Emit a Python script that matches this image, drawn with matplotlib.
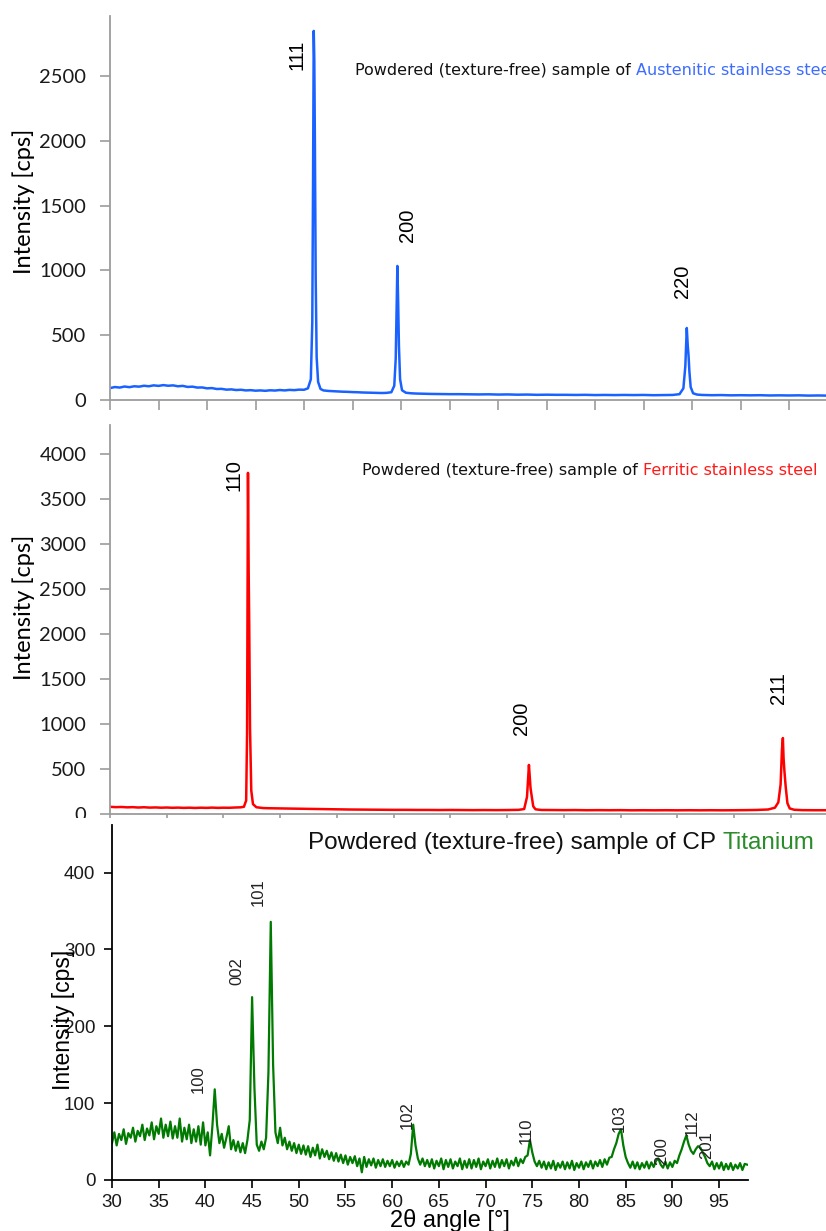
import numpy as np
import matplotlib
matplotlib.use("Agg")
import matplotlib.pyplot as plt
from matplotlib.patches import Rectangle

# ---------------- data ----------------
# Panel 1: austenitic stainless steel
aus_two_theta = [30.0, 30.5, 31.0, 31.5, 32.0, 32.5, 33.0, 33.5, 34.0, 34.5, 35.0, 35.5, 36.0, 36.5,
                 37.0, 37.5, 38.0, 38.5, 39.0, 39.5, 40.0, 40.5, 41.0, 41.5, 42.0, 42.5, 43.0, 43.5,
                 44.0, 44.5, 45.0, 45.5, 46.0, 46.5, 47.0, 47.5, 48.0, 48.5, 49.0, 49.5, 50.0, 50.4,
                 50.7, 50.85, 50.93, 51.0, 51.06, 51.12, 51.2, 51.3, 51.45, 51.7, 52.0, 52.5, 53.0,
                 53.5, 54.0, 54.5, 55.0, 55.5, 56.0, 56.5, 57.0, 57.5, 58.0, 58.5, 59.0, 59.3, 59.45,
                 59.55, 59.62, 59.7, 59.78, 59.9, 60.1, 60.5, 61.0, 61.5, 62.0, 63, 64, 65, 66, 67,
                 68, 69, 70, 71, 72, 73, 74, 75, 76, 77, 78, 79, 80, 81, 82, 83, 84, 85, 86, 87, 88,
                 88.7, 89.1, 89.3, 89.45, 89.55, 89.63, 89.72, 89.85, 90.1, 90.5, 91, 92, 93, 94, 95,
                 96, 97, 98, 99, 100, 101, 102, 103, 103.8]
aus_intensity = [92, 100, 96, 104, 99, 106, 103, 110, 106, 113, 109, 115, 110, 113,
                 106, 109, 101, 103, 96, 97, 90, 92, 85, 86, 80, 82, 77, 79,
                 74, 76, 72, 74, 71, 75, 73, 77, 74, 78, 76, 80, 79, 90,
                 160, 600, 1700, 2850, 2620, 1980, 950, 330, 140, 85, 74, 70, 68,
                 66, 64, 63, 61, 60, 58, 57, 56, 55, 54, 55, 60, 110, 320,
                 720, 1035, 760, 420, 160, 75, 56, 52, 50, 49, 47, 46, 45, 45, 44,
                 43, 44, 42, 43, 41, 42, 40, 41, 40, 40, 39, 40, 38, 39, 38, 39, 38, 39, 37, 38, 39,
                 45, 90, 260, 556, 420, 347, 220, 100, 52, 42, 39, 37, 38, 36, 37,
                 36, 37, 35, 36, 35, 36, 34, 35, 34]
aus_yticks = [0, 500, 1000, 1500, 2000, 2500]
aus_peaks = ["111", "200", "220"]

# Panel 2: ferritic stainless steel
fer_two_theta = [40.0, 40.5, 41.0, 41.5, 42.0, 42.5, 43.0, 43.5, 44.0, 44.5, 45.0, 45.5, 46.0, 46.5,
                 47.0, 47.5, 48.0, 48.5, 49.0, 49.5, 50.0, 50.5, 51.0, 51.5, 51.8, 52.0, 52.08, 52.16,
                 52.22, 52.27, 52.34, 52.45, 52.6, 52.9, 53.5, 54, 55, 56, 57, 58, 59, 60, 61, 62,
                 63, 64, 65, 66, 67, 68, 69, 70, 71, 72, 73, 74, 75, 76, 76.5, 76.75, 76.92, 77.0,
                 77.06, 77.15, 77.3, 77.5, 78, 79, 80, 81, 82, 83, 84, 85, 86, 87, 88, 89, 90, 91,
                 92, 93, 94, 95, 96, 97, 98, 98.6, 98.9, 99.1, 99.22, 99.3, 99.36, 99.44, 99.55,
                 99.7, 99.9, 100.3, 101, 102, 103.1]
fer_intensity = [80, 76, 78, 74, 76, 72, 75, 71, 73, 70, 72, 69, 71, 68,
                 70, 67, 70, 68, 71, 68, 70, 69, 72, 74, 80, 150, 900, 3790,
                 2700, 2100, 950, 260, 110, 75, 66, 64, 62, 60, 58, 56, 54, 52, 50, 49,
                 48, 47, 46, 46, 45, 45, 44, 45, 44, 43, 44, 43, 44, 46, 55, 190, 545, 400,
                 290, 210, 85, 52, 45, 44, 43, 44, 42, 43, 42, 43, 41, 42, 41, 42, 41, 42,
                 41, 42, 41, 42, 43, 45, 50, 70, 130, 330, 720, 844, 620, 470, 300,
                 120, 62, 47, 43, 42, 42]
fer_yticks = [0, 500, 1000, 1500, 2000, 2500, 3000, 3500, 4000]
fer_peaks = ["110", "200", "211"]

# Panel 3: CP titanium (0.25 deg steps from 30 to 98)
ti_two_theta = np.arange(30.0, 98.001, 0.25)
ti_intensity = [
    48, 62, 45, 60,   52, 66, 47, 61,   55, 68, 50, 64,   57, 72, 52, 67,
    58, 75, 53, 70,   60, 80, 55, 72,   57, 76, 54, 70,   55, 80, 50, 68,
    53, 72, 48, 66,   50, 70, 46, 75,   45, 62, 32, 70,   118, 72, 48, 60,
    42, 55, 70, 40,   52, 38, 50, 36,   48, 35, 52, 78,   238, 120, 46, 38,
    50, 40, 55, 140,  336, 150, 62, 48, 68, 45, 55, 40,   50, 38, 48, 35,
    46, 34, 45, 33,   44, 30, 42, 32,   46, 28, 40, 30,   38, 27, 36, 25,
    35, 24, 33, 22,   32, 20, 30, 22,   31, 18, 28, 10,   30, 17, 27, 19,
    28, 16, 26, 18,   27, 17, 25, 18,   26, 16, 24, 18,   25, 17, 24, 20,
    34, 72, 45, 28,   20, 28, 18, 26,   17, 27, 15, 25,   18, 28, 14, 26,
    17, 27, 15, 24,   18, 28, 14, 25,   16, 27, 15, 26,   17, 28, 14, 24,
    18, 27, 15, 25,   17, 28, 16, 26,   18, 27, 15, 25,   19, 29, 18, 27,
    22, 30, 32, 52,   36, 24, 18, 25,   16, 24, 14, 23,   15, 25, 13, 22,
    16, 24, 14, 23,   15, 25, 13, 22,   16, 24, 14, 23,   17, 25, 15, 24,
    18, 26, 17, 27,   20, 29, 30, 40,   48, 60, 66, 45,   30, 22, 16, 24,
    15, 23, 14, 22,   16, 24, 15, 23,   17, 25, 28, 20,   16, 24, 15, 23,
    17, 25, 22, 32,   40, 50, 58, 46,   38, 34, 40, 44,   42, 36, 30, 22,
    18, 24, 14, 22,   15, 23, 13, 21,   14, 22, 13, 20,   15, 22, 13, 21,
    20]
ti_xticks = [30, 35, 40, 45, 50, 55, 60, 65, 70, 75, 80, 85, 90, 95]
ti_yticks = [0, 100, 200, 300, 400]
ti_peaks = ["100", "002", "101", "102", "110", "103", "200", "112", "201"]

# ---------------- layout / style ----------------
W, H = 826, 1231
fig = plt.figure(figsize=(W / 100, H / 100), dpi=100)
fig.patch.set_facecolor("white")

def rect(l, t, r, b):
    return [l / W, (H - b) / H, (r - l) / W, (b - t) / H]

GRAY = "#9c9c9c"
TICKFONT = "Lato"
ARIAL = "Liberation Sans"

ax1 = fig.add_axes(rect(110, 16, 826, 400))
ax2 = fig.add_axes(rect(110, 425, 826, 814))
ax3 = fig.add_axes(rect(112, 825, 748, 1180))
ax3.set_zorder(3)

for ax in (ax1, ax2):
    for s in ("top", "right"):
        ax.spines[s].set_visible(False)
    for s in ("left", "bottom"):
        ax.spines[s].set_color(GRAY)
        ax.spines[s].set_linewidth(1.3)
    ax.tick_params(axis="both", direction="out", color=GRAY, width=1.2, length=7)
    ax.tick_params(axis="y", pad=10, labelsize=14.5, labelcolor="#1a1a1a")
    ax.tick_params(axis="x", labelbottom=False)

# --- panel 1
ax1.plot(aus_two_theta, aus_intensity, color="#1a62ff", lw=1.8)
ax1.set_xlim(30, 103.8)
ax1.set_ylim(0, 2965)
ax1.set_xticks(np.arange(30, 104, 5))
ax1.set_yticks(aus_yticks)
ax1.set_yticklabels([str(v) for v in aus_yticks], family=TICKFONT)
ax1.set_ylabel("Intensity [cps]", family=TICKFONT, fontsize=17, va="center")
ax1.yaxis.set_label_coords(-0.120, 0.516)
for lab, x, y in zip(aus_peaks, [49.3, 60.7, 89.0], [2662, 1350, 918]):
    ax1.text(x, y, lab, rotation=90, ha="center", va="center", fontsize=14.5, family=ARIAL)
t1 = ax1.text(0.342, 0.859, "Powdered (texture-free) sample of ", transform=ax1.transAxes,
              ha="left", va="center", fontsize=11.5, family="DejaVu Sans", color="#111111")
ax1.annotate("Austenitic stainless steel", xy=(1, 0.5), xycoords=t1, ha="left", va="center",
             fontsize=11.5, family="DejaVu Sans", color="#3d6cff")

# --- panel 2
ax2.plot(fer_two_theta, fer_intensity, color="#ff0000", lw=1.8)
ax2.set_xlim(40, 103.1)
ax2.set_ylim(0, 4322)
ax2.set_xticks(np.arange(40, 104, 5))
ax2.set_yticks(fer_yticks)
ax2.set_yticklabels([str(v) for v in fer_yticks], family=TICKFONT)
ax2.set_ylabel("Intensity [cps]", family=TICKFONT, fontsize=17, va="center")
ax2.yaxis.set_label_coords(-0.120, 0.530)
for lab, x, y in zip(fer_peaks, [50.9, 76.3, 98.9], [3767, 1067, 1400]):
    ax2.text(x, y, lab, rotation=90, ha="center", va="center", fontsize=14.5, family=ARIAL)
t2 = ax2.text(0.352, 0.882, "Powdered (texture-free) sample of ", transform=ax2.transAxes,
              ha="left", va="center", fontsize=11.5, family="DejaVu Sans", color="#111111")
ax2.annotate("Ferritic stainless steel", xy=(1, 0.5), xycoords=t2, ha="left", va="center",
             fontsize=11.5, family="DejaVu Sans", color="#ff1a1a")

# white strip where the bottom picture overlaps the middle one
fig.add_artist(Rectangle((0, (H - 826) / H), 1, 8 / H, transform=fig.transFigure,
                         facecolor="white", edgecolor="none", zorder=2))

# --- panel 3
ax3.patch.set_alpha(0)
ax3.plot(ti_two_theta, ti_intensity, color="#007a00", lw=1.6)
ax3.set_xlim(30, 98.1)
ax3.set_ylim(0, 462)
for s in ("top", "right"):
    ax3.spines[s].set_visible(False)
for s in ("left", "bottom"):
    ax3.spines[s].set_color("black")
    ax3.spines[s].set_linewidth(1.3)
ax3.set_xticks(ti_xticks)
ax3.set_yticks(ti_yticks)
ax3.tick_params(axis="both", direction="out", color="black", width=1.2, length=6,
                labelsize=13.5, labelcolor="#1a1a1a")
ax3.tick_params(axis="y", pad=6)
ax3.tick_params(axis="x", pad=4)
for lab in ax3.get_xticklabels() + ax3.get_yticklabels():
    lab.set_family(ARIAL)
ax3.set_ylabel("Intensity [cps]", family=ARIAL, fontsize=16.5, va="center")
ax3.yaxis.set_label_coords(-0.076, 0.451)
ax3.set_xlabel("2θ angle [°]", family=ARIAL, fontsize=17, va="top")
ax3.xaxis.set_label_coords(0.531, -0.082)
ti_lab_x = [39.2, 43.4, 45.7, 61.6, 74.4, 84.3, 88.9, 92.1, 93.7]
ti_lab_y = [131, 272, 374, 85, 64, 81, 38, 74, 46]
for lab, x, y in zip(ti_peaks, ti_lab_x, ti_lab_y):
    ax3.text(x, y, lab, rotation=90, ha="center", va="center", fontsize=12, family=ARIAL,
             color="#222222")
t3 = ax3.text(0.308, 0.949, "Powdered (texture-free) sample of CP ", transform=ax3.transAxes,
              ha="left", va="center", fontsize=17.5, family=ARIAL, color="#111111")
ax3.annotate("Titanium", xy=(1, 0.5), xycoords=t3, ha="left", va="center",
             fontsize=17.5, family=ARIAL, color="#2a8c2a")

fig.savefig("out.png", dpi=100, facecolor="white")
